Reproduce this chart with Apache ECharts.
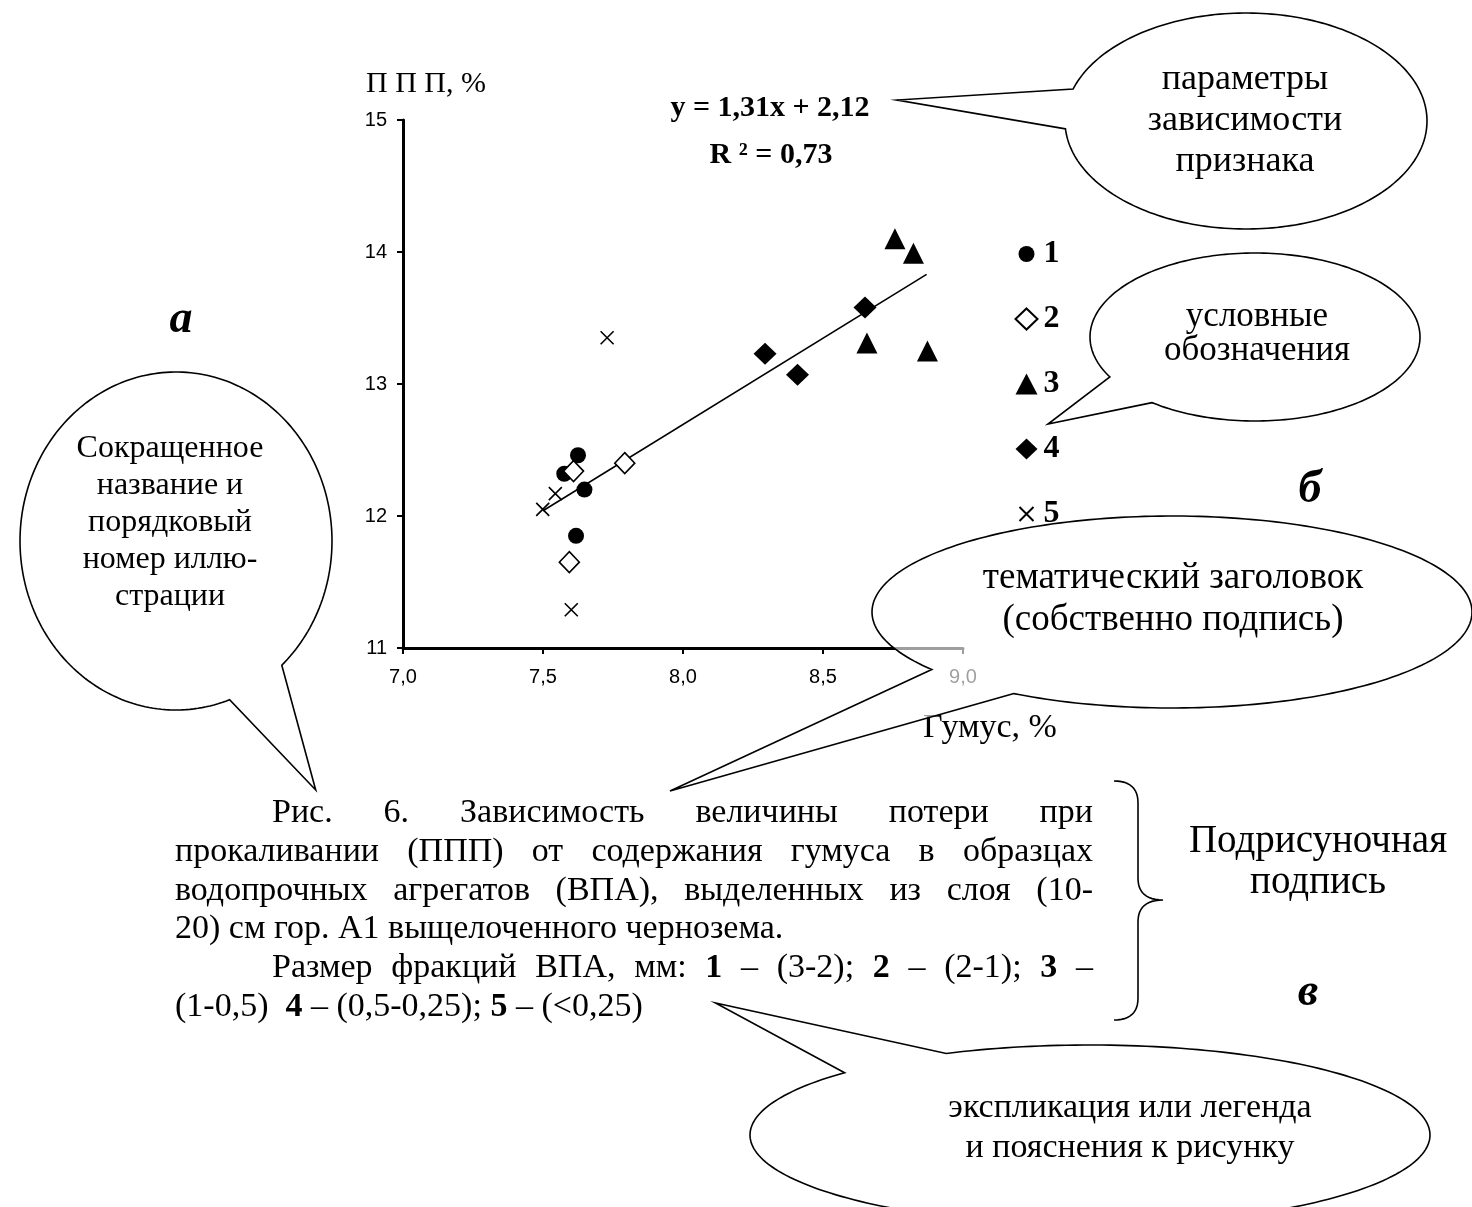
<!DOCTYPE html>
<html><head><meta charset="utf-8">
<script src="https://cdn.jsdelivr.net/npm/echarts@6/dist/echarts.min.js"></script>
<style>html,body{margin:0;padding:0;background:#fff}#c{width:1472px;height:1207px}</style>
</head><body><div id="c"></div>
<script>
// ---------- data ----------
const xMin = 7, xMax = 9, xInterval = 0.5;
const yMin = 11, yMax = 15, yInterval = 1;
const seriesNames = ['1', '2', '3', '4', '5'];
const s1 = [[7.625, 12.46], [7.576, 12.32], [7.648, 12.20], [7.618, 11.85]];
const s2 = [[7.609, 12.34], [7.792, 12.40], [7.594, 11.65]];
const s3 = [[8.757, 14.10], [8.823, 13.99], [8.657, 13.31], [8.873, 13.25]];
const s4 = [[8.293, 13.23], [8.409, 13.07], [8.650, 13.58]];
const s5 = [[7.729, 13.35], [7.544, 12.17], [7.499, 12.05], [7.601, 11.29]];
const trendX = [7.5, 8.87];
const trendY = [12.04, 13.83];
const yAxisName = 'П П П, %';
const xAxisName = 'Гумус, %';
const equationText = 'y = 1,31x + 2,12';
const r2Text = 'R ² = 0,73';
const calloutParams = ['параметры', 'зависимости', 'признака'];
const calloutLegend = ['условные', 'обозначения'];
const calloutName = ['Сокращенное', 'название и', 'порядковый', 'номер иллю-', 'страции'];
const calloutTitle = ['тематический заголовок', '(собственно подпись)'];
const calloutExpl = ['экспликация или легенда', 'и пояснения к рисунку'];
const sideLabel = ['Подрисуночная', 'подпись'];
const captionTexts = [
  'Рис. 6. Зависимость величины потери при',
  'прокаливании (ППП) от содержания гумуса в образцах',
  'водопрочных агрегатов (ВПА), выделенных из слоя (10-',
  '20) см гор. А1 выщелоченного чернозема.',
  'Размер фракций ВПА, мм: *1 – (3-2); *2 – (2-1); *3 –',
  '(1-0,5)  *4 – (0,5-0,25); *5 – (<0,25)'
];

// ---------- helpers ----------
const SERIF = '"Liberation Serif", "Times New Roman", serif';
const SANS = '"Liberation Sans", Arial, sans-serif';
const mctx = document.createElement('canvas').getContext('2d');
function measure(t, font) { mctx.font = font; return mctx.measureText(t).width; }
const Z = 100;
const graphics = [];
function txt(t, x, y, font, opts) {
  graphics.push(Object.assign({
    type: 'text', z: Z + 5,
    style: { text: t, x: x, y: y, font: font, fill: '#000',
      textAlign: 'center', textVerticalAlign: 'middle', align: 'center', verticalAlign: 'middle' }
  }, opts || {}));
}

// caption layout (justified lines)
const capFs = 34;
const capFont = capFs + 'px ' + SERIF;
const capBold = 'bold ' + capFs + 'px ' + SERIF;
const capLeft = 175, capIndent = 272, capRight = 1093;
const capLines = [
  { y: 813, x0: capIndent, just: true },
  { y: 852, x0: capLeft, just: true },
  { y: 891, x0: capLeft, just: true },
  { y: 929, x0: capLeft, just: false },
  { y: 968, x0: capIndent, just: true },
  { y: 1007, x0: capLeft, just: false }
];
const wordPos = [];
captionTexts.forEach((line, li) => {
  const cfg = capLines[li];
  const words = [];
  line.split(' ').forEach(w => {
    if (w === '') { if (words.length) words[words.length - 1].sp += 1; return; }
    const bold = w.startsWith('*');
    const t = bold ? w.slice(1) : w;
    const f = bold ? capBold : capFont;
    words.push({ t, f, w: measure(t, f), sp: 1 });
  });
  const spaceW = measure(' ', capFont);
  const total = words.reduce((a, w) => a + w.w, 0);
  let gap = spaceW;
  if (cfg.just && words.length > 1) {
    const units = words.slice(0, -1).reduce((a, w) => a + w.sp, 0);
    gap = (capRight - cfg.x0 - total) / units;
  }
  let x = cfg.x0;
  const pos = [];
  words.forEach(w => {
    graphics.push({ type: 'text', z: Z + 5,
      style: { text: w.t, x: x, y: cfg.y, font: w.f, fill: '#000',
        textAlign: 'left', textVerticalAlign: 'middle', align: 'left', verticalAlign: 'middle' } });
    pos.push({ t: w.t, x: x, w: w.w });
    x += w.w + gap * w.sp;
  });
  wordPos.push(pos);
});

// callouts: ellipse + tail drawn as one outline
function callout(c) {
  const pts = [];
  const P = a => [c.cx + c.rx * Math.cos(a * Math.PI / 180), c.cy + c.ry * Math.sin(a * Math.PI / 180)];
  pts.push(P(c.a1));
  pts.push(c.tip);
  for (let a = c.a2; a <= c.a1 + 360 + 0.001; a += 1.5) pts.push(P(Math.min(a, c.a1 + 360)));
  graphics.push({ type: 'polygon', z: Z, shape: { points: pts },
    style: { fill: c.fill || '#fff', stroke: '#000', lineWidth: 1.6, lineJoin: 'miter' } });
}

const w1 = wordPos[0];
const risTip = [w1[0].x + w1[0].w * 0.72, 790];
const titleTip = [(w1[2].x + w1[2].w + w1[3].x) / 2, 791];
const oneWord = wordPos[4].find(p => p.t === '1');
const explTip = [oneWord.x + oneWord.w * 0.6, 1003];

callout({ cx: 1246, cy: 121, rx: 181, ry: 108, a1: 175.8, a2: 197.2, tip: [897, 100] });
callout({ cx: 1255, cy: 337, rx: 165, ry: 84, a1: 128.6, a2: 151.6, tip: [1048, 424] });
callout({ cx: 176, cy: 541, rx: 156, ry: 169, a1: 47.3, a2: 69.9, tip: risTip });
callout({ cx: 1172, cy: 612, rx: 300, ry: 96, a1: 121.8, a2: 143.2, tip: titleTip, fill: 'rgba(255,255,255,0.62)' });
callout({ cx: 1090, cy: 1135, rx: 340, ry: 90, a1: 223.8, a2: 245, tip: explTip });

const f36 = '36px ' + SERIF;
calloutParams.forEach((t, i) => txt(t, 1245, 80 + i * 41, f36));
calloutLegend.forEach((t, i) => txt(t, 1257, 317 + i * 34, '35px ' + SERIF));
calloutName.forEach((t, i) => txt(t, 170, 449 + i * 37, '32px ' + SERIF));
calloutTitle.forEach((t, i) => txt(t, 1173, 578 + i * 42, '37px ' + SERIF));
calloutExpl.forEach((t, i) => txt(t, 1130, 1108 + i * 40, '34px ' + SERIF));
sideLabel.forEach((t, i) => txt(t, 1318, 842 + i * 41, '39px ' + SERIF));

// curly bracket
(function () {
  const pts = [];
  function quad(p0, p1, p2) { for (let i = 0; i <= 12; i++) { const t = i / 12;
    pts.push([(1 - t) * (1 - t) * p0[0] + 2 * (1 - t) * t * p1[0] + t * t * p2[0],
              (1 - t) * (1 - t) * p0[1] + 2 * (1 - t) * t * p1[1] + t * t * p2[1]]); } }
  quad([1114, 781], [1138, 781], [1138, 803]);
  quad([1138, 878], [1138, 900], [1163, 900]);
  quad([1163, 900], [1138, 900], [1138, 922]);
  quad([1138, 998], [1138, 1020], [1114, 1020]);
  graphics.push({ type: 'polyline', z: Z, shape: { points: pts }, style: { stroke: '#000', lineWidth: 1.6, fill: null } });
})();

// axis names, equation, letters
txt(yAxisName, 426, 84, '30px ' + SERIF);
txt(xAxisName, 990, 728, '34px ' + SERIF, { z: Z - 1 });
txt(equationText, 770, 108, 'bold 30px ' + SERIF);
txt(r2Text, 771, 155, 'bold 30px ' + SERIF);
const letterFont = 'italic bold 46px ' + SERIF;
txt('а', 181, 320, letterFont);
txt('б', 1310, 490, letterFont);
txt('в', 1308, 993, letterFont);

// ---------- chart ----------
const chart = echarts.init(document.getElementById('c'), null, { renderer: 'canvas' });
const axisCommon = {
  type: 'value',
  axisLine: { show: true, lineStyle: { color: '#000', width: 3 } },
  axisTick: { show: true, length: 6, lineStyle: { color: '#000', width: 2 } },
  splitLine: { show: false }
};
const legendIcons = [
  'path://M0,0L0,0M22,21L22,21M3,10.5A8,8 0 1 1 19,10.5A8,8 0 1 1 3,10.5Z',
  'diamond', 'triangle', 'diamond',
  'path://M0,0L0,0M22,21L22,21M4,3.5L18,17.5M18,3.5L4,17.5'
];
chart.setOption({
  animation: false,
  grid: { left: 403, top: 120, width: 560, height: 528, containLabel: false },
  xAxis: Object.assign({}, axisCommon, {
    min: xMin, max: xMax, interval: xInterval,
    axisLabel: { color: '#000', fontFamily: SANS, fontSize: 20, margin: 19,
      formatter: v => v.toFixed(1).replace('.', ',') }
  }),
  yAxis: Object.assign({}, axisCommon, {
    min: yMin, max: yMax, interval: yInterval,
    axisLabel: { color: '#000', fontFamily: SANS, fontSize: 20, margin: 16 }
  }),
  legend: {
    orient: 'vertical', left: 1008, top: 233, itemWidth: 22, itemHeight: 21, itemGap: 33,
    selectedMode: false,
    data: seriesNames.map((n, i) => ({ name: n, icon: legendIcons[i] })),
    textStyle: { fontFamily: SERIF, fontWeight: 'bold', fontSize: 32, color: '#000', lineHeight: 32, padding: [0, 0, 0, 1] }
  },
  series: [
    { type: 'scatter', name: seriesNames[0], data: s1, symbol: 'circle', symbolSize: 16, itemStyle: { color: '#000', opacity: 1 } },
    { type: 'scatter', name: seriesNames[1], data: s2, symbol: 'diamond', symbolSize: [20, 21],
      itemStyle: { color: '#fff', borderColor: '#000', borderWidth: 1.6, opacity: 1 } },
    { type: 'scatter', name: seriesNames[2], data: s3, symbol: 'triangle', symbolSize: [21, 21], itemStyle: { color: '#000', opacity: 1 } },
    { type: 'scatter', name: seriesNames[3], data: s4, symbol: 'diamond', symbolSize: [23, 22], itemStyle: { color: '#000', opacity: 1 } },
    { type: 'scatter', name: seriesNames[4], data: s5, symbol: 'path://M0,0L10,10M10,0L0,10', symbolSize: 13,
      itemStyle: { color: 'none', borderColor: '#000', borderWidth: 1.6, opacity: 1 } },
    { type: 'line', name: 'trend', data: trendX.map((x, i) => [x, trendY[i]]), symbol: 'none', silent: true,
      lineStyle: { color: '#000', width: 1.6 }, z: 1 }
  ],
  graphic: { elements: graphics }
});
</script>
</body></html>
